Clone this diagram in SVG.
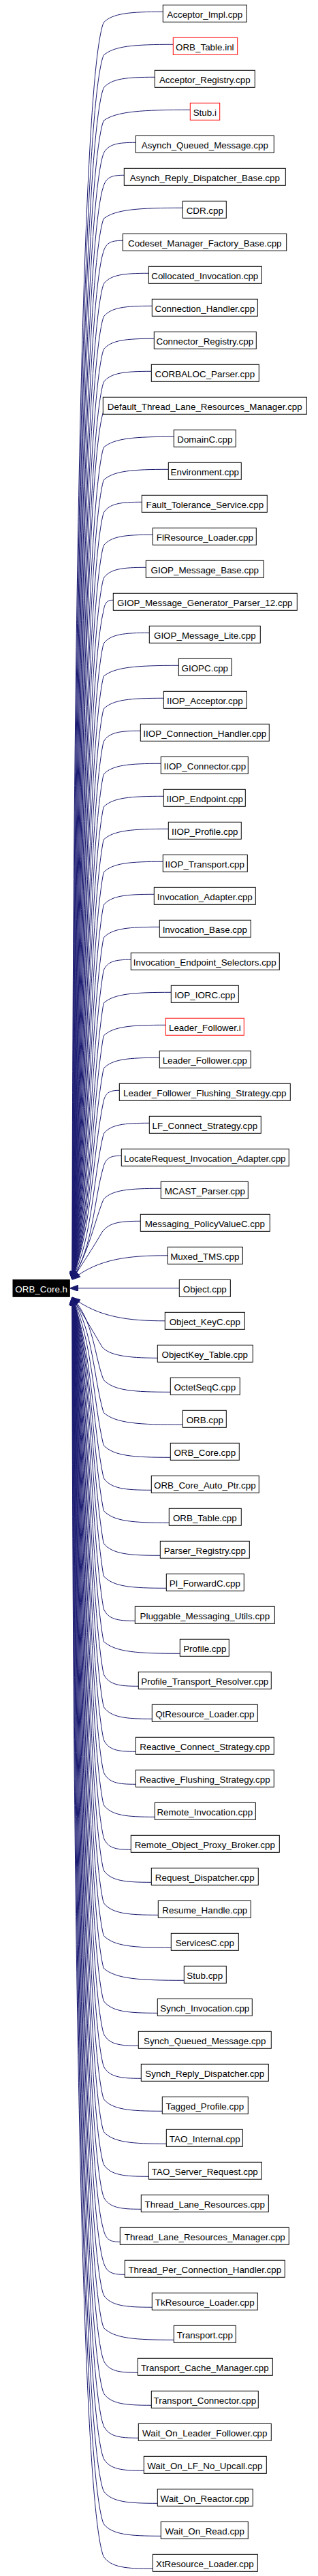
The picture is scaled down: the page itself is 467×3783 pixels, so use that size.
<svg xmlns="http://www.w3.org/2000/svg" width="467" height="3783" viewBox="0 0 467 3783">
<style>
.node rect{fill:#fff;stroke:#000;stroke-width:1}
.node.red rect{stroke:#f00}
.node text{font-family:"Liberation Sans",Arial,sans-serif;font-size:13.4px;text-anchor:middle;fill:#000}
#root rect{fill:#000;stroke:#000}
#root text{fill:#fff}
#edges path{fill:none;stroke:#191970;stroke-width:1;marker-end:url(#arr)}
</style>
<defs>
<marker id="arr" markerUnits="userSpaceOnUse" markerWidth="12" markerHeight="9" viewBox="0 0 12 9" refX="12" refY="4.5" orient="auto">
<path d="M0,0 L12,4.5 L0,9 z" fill="#191970" stroke="#191970" stroke-width="1"/>
</marker>
</defs>
<rect width="467" height="3783" fill="#fff"/>
<g id="edges">
<path d="M239.3,17.3 C191.3,17.3 165.1,19.3 152,33.3 C106,153.3 106,1799 106,1879"/>
<path d="M254.3,65.3 C198,65.3 167.3,67.3 152,81.3 C106.9,201.3 106.9,1799 106,1879"/>
<path d="M227.3,113.3 C185.9,113.3 163.3,115.3 152,129.3 C107.8,249.3 107.8,1799 106,1879"/>
<path d="M279.3,161.3 C209.3,161.3 171.1,163.3 152,177.3 C108.7,297.3 108.7,1799 106,1879"/>
<path d="M199.3,209.3 C173.3,209.3 159.1,211.3 152,225.3 C109.6,345.3 109.6,1799 106,1879"/>
<path d="M182.3,257.3 C165.6,257.3 156.5,259.3 152,273.3 C110.5,393.3 110.5,1799 106,1879"/>
<path d="M268.3,305.3 C204.3,305.3 169.4,307.3 152,321.3 C111.4,441.3 111.4,1799 106,1879"/>
<path d="M180.3,353.3 C164.7,353.3 156.2,355.3 152,369.3 C112.3,489.3 112.3,1799 106,1879"/>
<path d="M218.3,401.3 C181.8,401.3 161.9,403.3 152,417.3 C113.2,537.3 113.2,1799 106,1879"/>
<path d="M223.3,449.3 C184.1,449.3 162.7,451.3 152,465.3 C114.1,585.3 114.1,1799 106,1879"/>
<path d="M226.3,497.3 C185.4,497.3 163.1,499.3 152,513.3 C115,633.3 115,1799 106,1879"/>
<path d="M222.3,545.3 C183.6,545.3 162.5,547.3 152,561.3 C115.9,681.3 115.9,1799 106,1879"/>
<path d="M151.3,606 C116.8,726 116.8,1799 106,1879"/>
<path d="M255.3,641.3 C198.5,641.3 167.5,643.3 152,657.3 C117.7,777.3 117.7,1799 106,1879"/>
<path d="M247.3,689.3 C194.9,689.3 166.3,691.3 152,705.3 C118.6,825.3 118.6,1799 106,1879"/>
<path d="M208.3,737.3 C177.3,737.3 160.4,739.3 152,753.3 C119.5,873.3 119.5,1799 106,1879"/>
<path d="M224.3,785.3 C184.5,785.3 162.8,787.3 152,801.3 C120.4,921.3 120.4,1799 106,1879"/>
<path d="M214.3,833.3 C180,833.3 161.3,835.3 152,849.3 C121.3,969.3 121.3,1799 106,1879"/>
<path d="M166.3,881.3 C158.4,881.3 154.1,883.3 152,897.3 C122.2,1017.3 122.2,1799 106,1879"/>
<path d="M219.3,929.3 C182.3,929.3 162.1,931.3 152,945.3 C123.1,1065.3 123.1,1799 106,1879"/>
<path d="M262.3,977.3 C201.6,977.3 168.5,979.3 152,993.3 C124,1113.3 124,1799 106,1879"/>
<path d="M240.3,1025.3 C191.7,1025.3 165.2,1027.3 152,1041.3 C124.9,1161.3 124.9,1799 106,1879"/>
<path d="M206.3,1073.3 C176.4,1073.3 160.1,1075.3 152,1089.3 C125.8,1209.3 125.8,1799 106,1879"/>
<path d="M236.3,1121.3 C189.9,1121.3 164.6,1123.3 152,1137.3 C126.7,1257.3 126.7,1799 106,1879"/>
<path d="M240.3,1169.3 C191.7,1169.3 165.2,1171.3 152,1185.3 C127.6,1305.3 127.6,1799 106,1879"/>
<path d="M247.3,1217.3 C194.9,1217.3 166.3,1219.3 152,1233.3 C128.5,1353.3 128.5,1799 106,1879"/>
<path d="M239.3,1265.3 C191.3,1265.3 165.1,1267.3 152,1281.3 C129.4,1401.3 129.4,1799 106,1879"/>
<path d="M226.3,1313.3 C185.4,1313.3 163.1,1315.3 152,1329.3 C130.3,1449.3 130.3,1799 106,1879"/>
<path d="M234.3,1361.3 C189,1361.3 164.3,1363.3 152,1377.3 C131.2,1497.3 131.2,1799 106,1879"/>
<path d="M192.3,1409.3 C170.1,1409.3 158,1411.3 152,1425.3 C132.1,1545.3 132.1,1799 106,1879"/>
<path d="M251.3,1457.3 C196.7,1457.3 166.9,1459.3 152,1473.3 C133,1593.3 133,1799 106,1879"/>
<path d="M243.3,1505.3 C193.1,1505.3 165.7,1507.3 152,1521.3 C133.9,1628.6 133.9,1799 106,1879"/>
<path d="M234.3,1553.3 C189,1553.3 164.3,1555.3 152,1569.3 C134.8,1662.2 134.8,1799 106,1879"/>
<path d="M175.3,1601.3 C162.5,1601.3 155.5,1603.3 152,1617.3 C135.7,1695.8 135.7,1800.5 106,1879"/>
<path d="M219.3,1649.3 C182.3,1649.3 162.1,1651.3 152,1665.3 C136.6,1729.4 136.6,1814.9 106,1879"/>
<path d="M178.3,1697.3 C163.8,1697.3 155.9,1699.3 152,1713.3 C137.5,1763 137.5,1829.3 106,1879"/>
<path d="M236.3,1745.3 C189.9,1745.3 164.6,1747.3 152,1761.3 C140,1790 130,1840 106,1879"/>
<path d="M206.3,1793.3 C176.4,1793.3 160.1,1795.3 150,1809.3 C138,1830 125,1850 106,1879"/>
<path d="M246.3,1843.8 C190,1843.8 145,1848 106,1879"/>
<path d="M263.3,1891.8 L102.5,1891.8"/>
<path d="M242.3,1939.8 C190,1939.8 145,1935 106,1905"/>
<path d="M231.3,1994.3 C185,1994.3 160,1990 150,1978 C138,1958 125,1935 106,1905"/>
<path d="M250.3,2044.3 C196.2,2044.3 166.7,2042.3 152,2026.3 C138.2,1989.9 138.2,1941.4 106,1905"/>
<path d="M268.3,2092.3 C204.3,2092.3 169.4,2090.3 152,2074.3 C137.3,2023.5 137.3,1955.8 106,1905"/>
<path d="M250.3,2140.3 C196.2,2140.3 166.7,2138.3 152,2122.3 C136.4,2057.1 136.4,1970.2 106,1905"/>
<path d="M222.3,2188.3 C183.6,2188.3 162.5,2186.3 152,2170.3 C135.5,2090.7 135.5,1984.6 106,1905"/>
<path d="M248.3,2236.3 C195.3,2236.3 166.4,2234.3 152,2218.3 C134.6,2124.3 134.6,1985 106,1905"/>
<path d="M235.3,2284.3 C189.5,2284.3 164.5,2282.3 152,2266.3 C133.7,2157.9 133.7,1985 106,1905"/>
<path d="M244.3,2332.3 C193.5,2332.3 165.8,2330.3 152,2314.3 C132.8,2194.3 132.8,1985 106,1905"/>
<path d="M198.3,2380.3 C172.8,2380.3 158.9,2378.3 152,2362.3 C131.9,2242.3 131.9,1985 106,1905"/>
<path d="M264.3,2428.3 C202.5,2428.3 168.8,2426.3 152,2410.3 C131,2290.3 131,1985 106,1905"/>
<path d="M203.3,2476.3 C175.1,2476.3 159.7,2474.3 152,2458.3 C130.1,2338.3 130.1,1985 106,1905"/>
<path d="M223.3,2524.3 C184.1,2524.3 162.7,2522.3 152,2506.3 C129.2,2386.3 129.2,1985 106,1905"/>
<path d="M199.3,2572.3 C173.3,2572.3 159.1,2570.3 152,2554.3 C128.3,2434.3 128.3,1985 106,1905"/>
<path d="M199.3,2620.3 C173.3,2620.3 159.1,2618.3 152,2602.3 C127.4,2482.3 127.4,1985 106,1905"/>
<path d="M227.3,2668.3 C185.9,2668.3 163.3,2666.3 152,2650.3 C126.5,2530.3 126.5,1985 106,1905"/>
<path d="M192.3,2716.3 C170.1,2716.3 158,2714.3 152,2698.3 C125.6,2578.3 125.6,1985 106,1905"/>
<path d="M222.3,2764.3 C183.6,2764.3 162.5,2762.3 152,2746.3 C124.7,2626.3 124.7,1985 106,1905"/>
<path d="M232.3,2812.3 C188.1,2812.3 164,2810.3 152,2794.3 C123.8,2674.3 123.8,1985 106,1905"/>
<path d="M251.3,2860.3 C196.7,2860.3 166.9,2858.3 152,2842.3 C122.9,2722.3 122.9,1985 106,1905"/>
<path d="M270.3,2908.3 C205.2,2908.3 169.7,2906.3 152,2890.3 C122,2770.3 122,1985 106,1905"/>
<path d="M231.3,2956.3 C187.7,2956.3 163.9,2954.3 152,2938.3 C121.1,2818.3 121.1,1985 106,1905"/>
<path d="M203.3,3004.3 C175.1,3004.3 159.7,3002.3 152,2986.3 C120.2,2866.3 120.2,1985 106,1905"/>
<path d="M207.3,3052.3 C176.9,3052.3 160.3,3050.3 152,3034.3 C119.3,2914.3 119.3,1985 106,1905"/>
<path d="M238.3,3100.3 C190.8,3100.3 164.9,3098.3 152,3082.3 C118.4,2962.3 118.4,1985 106,1905"/>
<path d="M244.3,3148.3 C193.5,3148.3 165.8,3146.3 152,3130.3 C117.5,3010.3 117.5,1985 106,1905"/>
<path d="M218.3,3196.3 C181.8,3196.3 161.9,3194.3 152,3178.3 C116.6,3058.3 116.6,1985 106,1905"/>
<path d="M207.3,3244.3 C176.9,3244.3 160.3,3242.3 152,3226.3 C115.7,3106.3 115.7,1985 106,1905"/>
<path d="M176.3,3292.3 C162.9,3292.3 155.6,3290.3 152,3274.3 C114.8,3154.3 114.8,1985 106,1905"/>
<path d="M183.3,3340.3 C166.1,3340.3 156.7,3338.3 152,3322.3 C113.9,3202.3 113.9,1985 106,1905"/>
<path d="M223.3,3388.3 C184.1,3388.3 162.7,3386.3 152,3370.3 C113,3250.3 113,1985 106,1905"/>
<path d="M255.3,3436.3 C198.5,3436.3 167.5,3434.3 152,3418.3 C112.1,3298.3 112.1,1985 106,1905"/>
<path d="M202.3,3484.3 C174.6,3484.3 159.5,3482.3 152,3466.3 C111.2,3346.3 111.2,1985 106,1905"/>
<path d="M222.3,3532.3 C183.6,3532.3 162.5,3530.3 152,3514.3 C110.3,3394.3 110.3,1985 106,1905"/>
<path d="M203.3,3580.3 C175.1,3580.3 159.7,3578.3 152,3562.3 C109.4,3442.3 109.4,1985 106,1905"/>
<path d="M211.3,3628.3 C178.7,3628.3 160.9,3626.3 152,3610.3 C108.5,3490.3 108.5,1985 106,1905"/>
<path d="M231.3,3676.3 C187.7,3676.3 163.9,3674.3 152,3658.3 C107.6,3538.3 107.6,1985 106,1905"/>
<path d="M236.3,3724.3 C189.9,3724.3 164.6,3722.3 152,3706.3 C106.7,3586.3 106.7,1985 106,1905"/>
<path d="M224.3,3772.3 C184.5,3772.3 162.8,3770.3 152,3754.3 C105.8,3634.3 105.8,1985 106,1905"/>
</g>
<g id="root" class="node"><rect x="19" y="1879.3" width="83.3" height="25"/><text x="60.7" y="1898.3">ORB_Core.h</text></g>
<g id="n0" class="node"><rect x="239.3" y="7.3" width="123" height="25"/><text x="300.8" y="26.3">Acceptor_Impl.cpp</text></g>
<g id="n1" class="node red"><rect x="254.3" y="55.3" width="94.4" height="25"/><text x="300.8" y="74.3">ORB_Table.inl</text></g>
<g id="n2" class="node"><rect x="227.3" y="103.3" width="147" height="25"/><text x="300.8" y="122.3">Acceptor_Registry.cpp</text></g>
<g id="n3" class="node red"><rect x="279.3" y="151.3" width="43.4" height="25"/><text x="300.8" y="170.3">Stub.i</text></g>
<g id="n4" class="node"><rect x="199.3" y="199.3" width="203" height="25"/><text x="300.8" y="218.3">Asynch_Queued_Message.cpp</text></g>
<g id="n5" class="node"><rect x="182.3" y="247.3" width="237" height="25"/><text x="300.8" y="266.3">Asynch_Reply_Dispatcher_Base.cpp</text></g>
<g id="n6" class="node"><rect x="268.3" y="295.3" width="64" height="25"/><text x="300.8" y="314.3">CDR.cpp</text></g>
<g id="n7" class="node"><rect x="180.3" y="343.3" width="240.4" height="25"/><text x="300.8" y="362.3">Codeset_Manager_Factory_Base.cpp</text></g>
<g id="n8" class="node"><rect x="218.3" y="391.3" width="166" height="25"/><text x="300.8" y="410.3">Collocated_Invocation.cpp</text></g>
<g id="n9" class="node"><rect x="223.3" y="439.3" width="155" height="25"/><text x="300.8" y="458.3">Connection_Handler.cpp</text></g>
<g id="n10" class="node"><rect x="226.3" y="487.3" width="150" height="25"/><text x="300.8" y="506.3">Connector_Registry.cpp</text></g>
<g id="n11" class="node"><rect x="222.3" y="535.3" width="158" height="25"/><text x="300.8" y="554.3">CORBALOC_Parser.cpp</text></g>
<g id="n12" class="node"><rect x="151.3" y="583.3" width="299" height="25"/><text x="300.8" y="602.3">Default_Thread_Lane_Resources_Manager.cpp</text></g>
<g id="n13" class="node"><rect x="255.3" y="631.3" width="91" height="25"/><text x="300.8" y="650.3">DomainC.cpp</text></g>
<g id="n14" class="node"><rect x="247.3" y="679.3" width="107" height="25"/><text x="300.8" y="698.3">Environment.cpp</text></g>
<g id="n15" class="node"><rect x="208.3" y="727.3" width="184" height="25"/><text x="300.8" y="746.3">Fault_Tolerance_Service.cpp</text></g>
<g id="n16" class="node"><rect x="224.3" y="775.3" width="152" height="25"/><text x="300.8" y="794.3">FlResource_Loader.cpp</text></g>
<g id="n17" class="node"><rect x="214.3" y="823.3" width="173" height="25"/><text x="300.8" y="842.3">GIOP_Message_Base.cpp</text></g>
<g id="n18" class="node"><rect x="166.3" y="871.3" width="270" height="25"/><text x="300.8" y="890.3">GIOP_Message_Generator_Parser_12.cpp</text></g>
<g id="n19" class="node"><rect x="219.3" y="919.3" width="163" height="25"/><text x="300.8" y="938.3">GIOP_Message_Lite.cpp</text></g>
<g id="n20" class="node"><rect x="262.3" y="967.3" width="78" height="25"/><text x="300.8" y="986.3">GIOPC.cpp</text></g>
<g id="n21" class="node"><rect x="240.3" y="1015.3" width="122" height="25"/><text x="300.8" y="1034.3">IIOP_Acceptor.cpp</text></g>
<g id="n22" class="node"><rect x="206.3" y="1063.3" width="189" height="25"/><text x="300.8" y="1082.3">IIOP_Connection_Handler.cpp</text></g>
<g id="n23" class="node"><rect x="236.3" y="1111.3" width="128" height="25"/><text x="300.8" y="1130.3">IIOP_Connector.cpp</text></g>
<g id="n24" class="node"><rect x="240.3" y="1159.3" width="120" height="25"/><text x="300.8" y="1178.3">IIOP_Endpoint.cpp</text></g>
<g id="n25" class="node"><rect x="247.3" y="1207.3" width="107" height="25"/><text x="300.8" y="1226.3">IIOP_Profile.cpp</text></g>
<g id="n26" class="node"><rect x="239.3" y="1255.3" width="124" height="25"/><text x="300.8" y="1274.3">IIOP_Transport.cpp</text></g>
<g id="n27" class="node"><rect x="226.3" y="1303.3" width="149" height="25"/><text x="300.8" y="1322.3">Invocation_Adapter.cpp</text></g>
<g id="n28" class="node"><rect x="234.3" y="1351.3" width="134" height="25"/><text x="300.8" y="1370.3">Invocation_Base.cpp</text></g>
<g id="n29" class="node"><rect x="192.3" y="1399.3" width="218" height="25"/><text x="300.8" y="1418.3">Invocation_Endpoint_Selectors.cpp</text></g>
<g id="n30" class="node"><rect x="251.3" y="1447.3" width="99" height="25"/><text x="300.8" y="1466.3">IOP_IORC.cpp</text></g>
<g id="n31" class="node red"><rect x="243.3" y="1495.3" width="115" height="25"/><text x="300.8" y="1514.3">Leader_Follower.i</text></g>
<g id="n32" class="node"><rect x="234.3" y="1543.3" width="134" height="25"/><text x="300.8" y="1562.3">Leader_Follower.cpp</text></g>
<g id="n33" class="node"><rect x="175.3" y="1591.3" width="251" height="25"/><text x="300.8" y="1610.3">Leader_Follower_Flushing_Strategy.cpp</text></g>
<g id="n34" class="node"><rect x="219.3" y="1639.3" width="164" height="25"/><text x="300.8" y="1658.3">LF_Connect_Strategy.cpp</text></g>
<g id="n35" class="node"><rect x="178.3" y="1687.3" width="246" height="25"/><text x="300.8" y="1706.3">LocateRequest_Invocation_Adapter.cpp</text></g>
<g id="n36" class="node"><rect x="236.3" y="1735.3" width="128" height="25"/><text x="300.8" y="1754.3">MCAST_Parser.cpp</text></g>
<g id="n37" class="node"><rect x="206.3" y="1783.3" width="190" height="25"/><text x="300.8" y="1802.3">Messaging_PolicyValueC.cpp</text></g>
<g id="n38" class="node"><rect x="246.3" y="1831.3" width="110" height="25"/><text x="300.8" y="1850.3">Muxed_TMS.cpp</text></g>
<g id="n39" class="node"><rect x="263.3" y="1879.3" width="75" height="25"/><text x="300.8" y="1898.3">Object.cpp</text></g>
<g id="n40" class="node"><rect x="242.3" y="1927.3" width="117" height="25"/><text x="300.8" y="1946.3">Object_KeyC.cpp</text></g>
<g id="n41" class="node"><rect x="231.3" y="1975.3" width="140" height="25"/><text x="300.8" y="1994.3">ObjectKey_Table.cpp</text></g>
<g id="n42" class="node"><rect x="250.3" y="2023.3" width="102" height="25"/><text x="300.8" y="2042.3">OctetSeqC.cpp</text></g>
<g id="n43" class="node"><rect x="268.3" y="2071.3" width="64" height="25"/><text x="300.8" y="2090.3">ORB.cpp</text></g>
<g id="n44" class="node"><rect x="250.3" y="2119.3" width="101" height="25"/><text x="300.8" y="2138.3">ORB_Core.cpp</text></g>
<g id="n45" class="node"><rect x="222.3" y="2167.3" width="158" height="25"/><text x="300.8" y="2186.3">ORB_Core_Auto_Ptr.cpp</text></g>
<g id="n46" class="node"><rect x="248.3" y="2215.3" width="106" height="25"/><text x="300.8" y="2234.3">ORB_Table.cpp</text></g>
<g id="n47" class="node"><rect x="235.3" y="2263.3" width="131" height="25"/><text x="300.8" y="2282.3">Parser_Registry.cpp</text></g>
<g id="n48" class="node"><rect x="244.3" y="2311.3" width="114" height="25"/><text x="300.8" y="2330.3">PI_ForwardC.cpp</text></g>
<g id="n49" class="node"><rect x="198.3" y="2359.3" width="205" height="25"/><text x="300.8" y="2378.3">Pluggable_Messaging_Utils.cpp</text></g>
<g id="n50" class="node"><rect x="264.3" y="2407.3" width="72" height="25"/><text x="300.8" y="2426.3">Profile.cpp</text></g>
<g id="n51" class="node"><rect x="203.3" y="2455.3" width="195" height="25"/><text x="300.8" y="2474.3">Profile_Transport_Resolver.cpp</text></g>
<g id="n52" class="node"><rect x="223.3" y="2503.3" width="155" height="25"/><text x="300.8" y="2522.3">QtResource_Loader.cpp</text></g>
<g id="n53" class="node"><rect x="199.3" y="2551.3" width="203" height="25"/><text x="300.8" y="2570.3">Reactive_Connect_Strategy.cpp</text></g>
<g id="n54" class="node"><rect x="199.3" y="2599.3" width="203" height="25"/><text x="300.8" y="2618.3">Reactive_Flushing_Strategy.cpp</text></g>
<g id="n55" class="node"><rect x="227.3" y="2647.3" width="148" height="25"/><text x="300.8" y="2666.3">Remote_Invocation.cpp</text></g>
<g id="n56" class="node"><rect x="192.3" y="2695.3" width="218" height="25"/><text x="300.8" y="2714.3">Remote_Object_Proxy_Broker.cpp</text></g>
<g id="n57" class="node"><rect x="222.3" y="2743.3" width="157" height="25"/><text x="300.8" y="2762.3">Request_Dispatcher.cpp</text></g>
<g id="n58" class="node"><rect x="232.3" y="2791.3" width="136" height="25"/><text x="300.8" y="2810.3">Resume_Handle.cpp</text></g>
<g id="n59" class="node"><rect x="251.3" y="2839.3" width="99" height="25"/><text x="300.8" y="2858.3">ServicesC.cpp</text></g>
<g id="n60" class="node"><rect x="270.3" y="2887.3" width="62" height="25"/><text x="300.8" y="2906.3">Stub.cpp</text></g>
<g id="n61" class="node"><rect x="231.3" y="2935.3" width="139" height="25"/><text x="300.8" y="2954.3">Synch_Invocation.cpp</text></g>
<g id="n62" class="node"><rect x="203.3" y="2983.3" width="195" height="25"/><text x="300.8" y="3002.3">Synch_Queued_Message.cpp</text></g>
<g id="n63" class="node"><rect x="207.3" y="3031.3" width="187" height="25"/><text x="300.8" y="3050.3">Synch_Reply_Dispatcher.cpp</text></g>
<g id="n64" class="node"><rect x="238.3" y="3079.3" width="126" height="25"/><text x="300.8" y="3098.3">Tagged_Profile.cpp</text></g>
<g id="n65" class="node"><rect x="244.3" y="3127.3" width="112" height="25"/><text x="300.8" y="3146.3">TAO_Internal.cpp</text></g>
<g id="n66" class="node"><rect x="218.3" y="3175.3" width="166" height="25"/><text x="300.8" y="3194.3">TAO_Server_Request.cpp</text></g>
<g id="n67" class="node"><rect x="207.3" y="3223.3" width="187" height="25"/><text x="300.8" y="3242.3">Thread_Lane_Resources.cpp</text></g>
<g id="n68" class="node"><rect x="176.3" y="3271.3" width="248" height="25"/><text x="300.8" y="3290.3">Thread_Lane_Resources_Manager.cpp</text></g>
<g id="n69" class="node"><rect x="183.3" y="3319.3" width="235" height="25"/><text x="300.8" y="3338.3">Thread_Per_Connection_Handler.cpp</text></g>
<g id="n70" class="node"><rect x="223.3" y="3367.3" width="155" height="25"/><text x="300.8" y="3386.3">TkResource_Loader.cpp</text></g>
<g id="n71" class="node"><rect x="255.3" y="3415.3" width="91" height="25"/><text x="300.8" y="3434.3">Transport.cpp</text></g>
<g id="n72" class="node"><rect x="202.3" y="3463.3" width="198" height="25"/><text x="300.8" y="3482.3">Transport_Cache_Manager.cpp</text></g>
<g id="n73" class="node"><rect x="222.3" y="3511.3" width="157" height="25"/><text x="300.8" y="3530.3">Transport_Connector.cpp</text></g>
<g id="n74" class="node"><rect x="203.3" y="3559.3" width="195" height="25"/><text x="300.8" y="3578.3">Wait_On_Leader_Follower.cpp</text></g>
<g id="n75" class="node"><rect x="211.3" y="3607.3" width="180" height="25"/><text x="300.8" y="3626.3">Wait_On_LF_No_Upcall.cpp</text></g>
<g id="n76" class="node"><rect x="231.3" y="3655.3" width="140" height="25"/><text x="300.8" y="3674.3">Wait_On_Reactor.cpp</text></g>
<g id="n77" class="node"><rect x="236.3" y="3703.3" width="128" height="25"/><text x="300.8" y="3722.3">Wait_On_Read.cpp</text></g>
<g id="n78" class="node"><rect x="224.3" y="3751.3" width="154" height="25"/><text x="300.8" y="3770.3">XtResource_Loader.cpp</text></g>
</svg>
